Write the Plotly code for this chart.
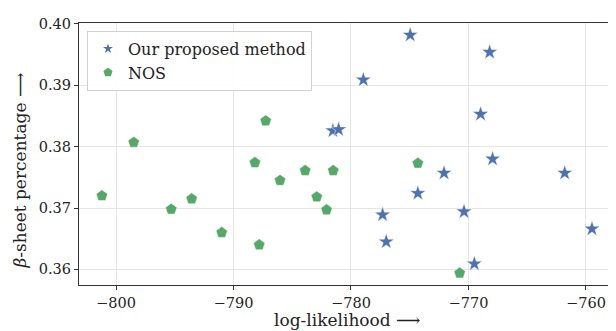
import plotly.graph_objects as go

# Our proposed method (blue stars)
ours_x = [-774.96, -768.2, -778.95, -768.97, -781.54, -781.05, -767.95, -772.08,
          -761.81, -774.31, -777.31, -770.38, -759.49, -777.0, -769.5]
ours_y = [0.3982, 0.3954, 0.3909, 0.3853, 0.3826, 0.3828, 0.3780, 0.3757,
          0.3757, 0.3724, 0.3689, 0.3694, 0.3666, 0.3645, 0.3609]

# NOS (green pentagons)
nos_x = [-787.26, -798.49, -788.18, -783.9, -781.51, -786.04, -801.2, -793.56,
         -782.91, -795.3, -782.08, -791.0, -787.81, -774.31, -770.75]
nos_y = [0.3842, 0.3807, 0.3774, 0.3761, 0.3761, 0.3745, 0.3720, 0.3715,
         0.3718, 0.3698, 0.3697, 0.3660, 0.3640, 0.3773, 0.3594]

x_ticks = [-800, -790, -780, -770, -760]
y_ticks = [0.36, 0.37, 0.38, 0.39, 0.40]
y_tick_text = ["0.36", "0.37", "0.38", "0.39", "0.40"]

SERIF = "DejaVu Serif"

fig = go.Figure()
fig.add_trace(go.Scatter(
    x=ours_x, y=ours_y, mode="markers", name="Our proposed method",
    marker=dict(symbol="star", size=12, color="#4C72B0",
                line=dict(width=0.5, color="white")),
))
fig.add_trace(go.Scatter(
    x=nos_x, y=nos_y, mode="markers", name="NOS",
    marker=dict(symbol="pentagon", size=12, color="#55A868",
                line=dict(width=0.5, color="white")),
))

# the page body adds an 8px offset, so the figure is laid out 8px up/left
fig.update_layout(
    width=616, height=331,
    margin=dict(l=71, r=8, t=9, b=54),
    paper_bgcolor="white", plot_bgcolor="white",
    font=dict(family=SERIF, size=14, color="#222222"),
    showlegend=True,
    legend=dict(
        x=8 / 537, y=(268 - 8) / 268, xanchor="left", yanchor="top",
        bgcolor="rgba(255,255,255,0.9)", bordercolor="#d0d0d0", borderwidth=1,
        font=dict(family=SERIF, size=16, color="#222222"),
        tracegroupgap=0, itemsizing="constant",
    ),
    xaxis=dict(
        range=[-803.15, -757.53], tickvals=x_ticks,
        showgrid=True, gridcolor="#e6e6e6", gridwidth=1, zeroline=False,
        showline=True, linecolor="#333333", linewidth=1.2, mirror=True,
        ticks="outside", ticklen=4, tickcolor="#333333",
        tickfont=dict(family=SERIF, size=14.5, color="#222222"),
    ),
    yaxis=dict(
        range=[0.35745, 0.40016], tickvals=y_ticks, ticktext=y_tick_text,
        showgrid=True, gridcolor="#e6e6e6", gridwidth=1, zeroline=False,
        showline=True, linecolor="#333333", linewidth=1.2, mirror=True,
        ticks="outside", ticklen=4, tickcolor="#333333",
        tickfont=dict(family=SERIF, size=14.5, color="#222222"),
    ),
    annotations=[
        dict(text="log-likelihood ⟶", xref="paper", yref="paper",
             x=(347 - 79) / 537, y=0, yshift=-35, showarrow=False,
             xanchor="center", yanchor="middle",
             font=dict(family=SERIF, size=17, color="#222222")),
        dict(text="<i>β</i>-sheet percentage ⟶", xref="paper", yref="paper",
             x=0, xshift=-59, y=(285 - 168) / 268, showarrow=False,
             textangle=-90, xanchor="center", yanchor="middle",
             font=dict(family=SERIF, size=17, color="#222222")),
    ],
)

fig.write_html("out.html")
